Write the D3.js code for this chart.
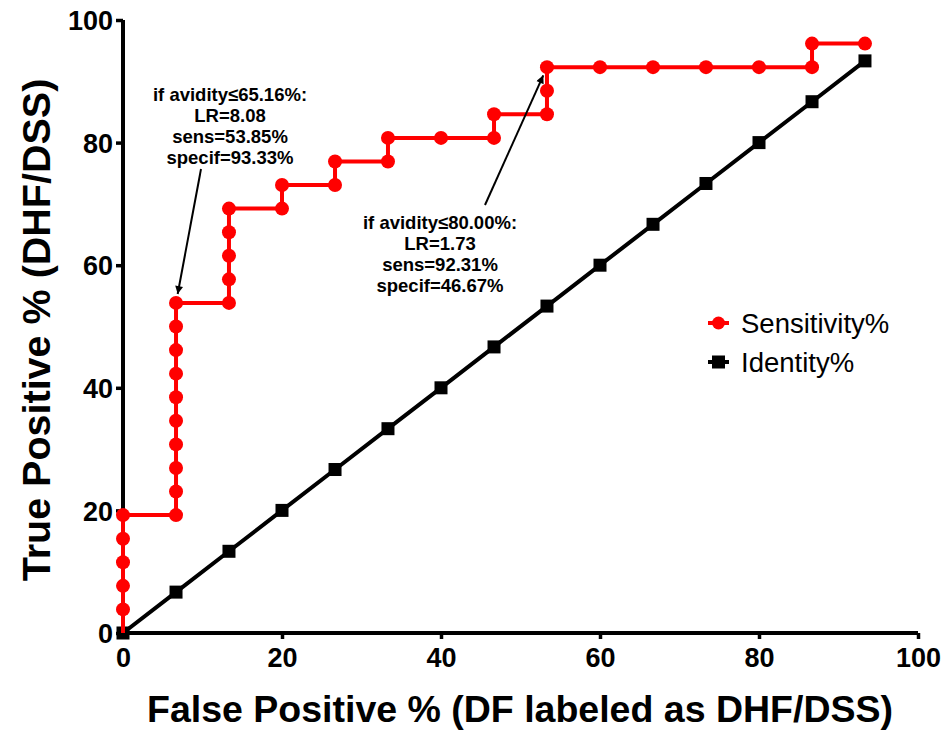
<!DOCTYPE html>
<html lang="en">
<head>
    <meta charset="UTF-8">
    <title>ROC curve - avidity</title>
    <style>
        html, body {
            margin: 0;
            padding: 0;
            background: #fff;
        }
        svg {
            display: block;
            font-family: "Liberation Sans", Arial, sans-serif;
        }
        .tick-label {
            font-size: 27px;
            font-weight: bold;
        }
        .axis-title {
            font-size: 37.5px;
            font-weight: bold;
        }
        .note {
            font-size: 18.5px;
            font-weight: bold;
            text-anchor: middle;
        }
        .legend-label {
            font-size: 27.5px;
        }
    </style>
    <script src="https://d3js.org/d3.v7.min.js"></script>
</head>
<body>
    <svg width="949" height="732"></svg>
    <script>
        // ROC points, in %
        var sensFpr = [0, 0, 0, 0, 0, 0,
            6.67, 6.67, 6.67, 6.67, 6.67, 6.67, 6.67, 6.67, 6.67, 6.67,
            13.33, 13.33, 13.33, 13.33, 13.33,
            20, 20, 26.67, 26.67, 33.33, 33.33, 40, 46.67, 46.67,
            53.33, 53.33, 53.33, 60, 66.67, 73.33, 80, 86.67, 86.67, 93.33];
        var sensTpr = [0, 3.85, 7.69, 11.54, 15.38, 19.23,
            19.23, 23.08, 26.92, 30.77, 34.62, 38.46, 42.31, 46.15, 50.00, 53.85,
            53.85, 57.69, 61.54, 65.38, 69.23,
            69.23, 73.08, 73.08, 76.92, 76.92, 80.77, 80.77, 80.77, 84.62,
            84.62, 88.46, 92.31, 92.31, 92.31, 92.31, 92.31, 92.31, 96.15, 96.15];
        var identX = [0, 6.67, 13.33, 20, 26.67, 33.33, 40, 46.67, 53.33, 60, 66.67, 73.33, 80, 86.67, 93.33];
        var identY = [0, 6.67, 13.33, 20, 26.67, 33.33, 40, 46.67, 53.33, 60, 66.67, 73.33, 80, 86.67, 93.33];
        var ticks = [0, 20, 40, 60, 80, 100];
        var seriesNames = ["Sensitivity%", "Identity%"];
        var notes = [
            ["if avidity\u226465.16%:", "LR=8.08", "sens=53.85%", "specif=93.33%"],
            ["if avidity\u226480.00%:", "LR=1.73", "sens=92.31%", "specif=46.67%"]
        ];
        var noteTargets = [[6.67, 53.85], [53.33, 92.31]];

        var svg = d3.select("svg");
        var x = d3.scaleLinear().domain([0, 100]).range([123, 918]);
        var y = d3.scaleLinear().domain([0, 100]).range([633, 20]);

        var sens = sensFpr.map((d, i) => [d, sensTpr[i]]);
        var ident = identX.map((d, i) => [d, identY[i]]);

        var line = d3.line().x(d => x(d[0])).y(d => y(d[1]));

        // axes
        var xAxis = svg.append("g")
            .attr("transform", "translate(0,633)")
            .call(d3.axisBottom(x).tickValues(ticks).tickSize(6).tickPadding(6));
        var yAxis = svg.append("g")
            .attr("transform", "translate(123,0)")
            .call(d3.axisLeft(y).tickValues(ticks).tickSize(7).tickPadding(3));

        [xAxis, yAxis].forEach(function(g) {
            g.select(".domain").attr("stroke", "#000").attr("stroke-width", 4)
                .attr("d", g === xAxis ? "M123,0H918" : "M0,633V20");
            g.selectAll(".tick line").attr("stroke", "#000").attr("stroke-width", 3.5);
            g.selectAll(".tick text").attr("class", "tick-label").attr("fill", "#000");
        });
        xAxis.selectAll(".tick text").attr("dy", "0.82em");
        yAxis.selectAll(".tick text").attr("dy", "0.36em");

        // identity line
        svg.append("path")
            .datum(ident)
            .attr("fill", "none")
            .attr("stroke", "#000")
            .attr("stroke-width", 4)
            .attr("d", line);

        svg.append("g").selectAll("rect")
            .data(ident)
            .enter().append("rect")
            .attr("x", d => x(d[0]) - 6.5)
            .attr("y", d => y(d[1]) - 6.5)
            .attr("width", 13)
            .attr("height", 13)
            .attr("fill", "#000");

        // sensitivity line
        svg.append("path")
            .datum(sens)
            .attr("fill", "none")
            .attr("stroke", "#ff0000")
            .attr("stroke-width", 4)
            .attr("d", line);

        svg.append("g").selectAll("circle")
            .data(sens.slice(1))
            .enter().append("circle")
            .attr("cx", d => x(d[0]))
            .attr("cy", d => y(d[1]))
            .attr("r", 7)
            .attr("fill", "#ff0000");

        // annotations
        svg.append("defs").append("marker")
            .attr("id", "arrow")
            .attr("viewBox", "0 0 10 10")
            .attr("refX", 10)
            .attr("refY", 5)
            .attr("markerWidth", 11)
            .attr("markerHeight", 8)
            .attr("markerUnits", "userSpaceOnUse")
            .attr("orient", "auto")
            .append("path")
            .attr("d", "M0,0L10,5L0,10z")
            .attr("fill", "#000");

        var notePos = [{cx: 230, y0: 101, from: [201, 169]}, {cx: 440, y0: 229, from: [485, 205]}];
        notes.forEach(function(lines, k) {
            var t = svg.append("text").attr("class", "note");
            lines.forEach(function(s, i) {
                t.append("tspan")
                    .attr("x", notePos[k].cx)
                    .attr("y", notePos[k].y0 + i * 21)
                    .text(s);
            });
            var tx = x(noteTargets[k][0]), ty = y(noteTargets[k][1]);
            var fx = notePos[k].from[0], fy = notePos[k].from[1];
            var dx = tx - fx, dy = ty - fy, len = Math.sqrt(dx * dx + dy * dy);
            svg.append("line")
                .attr("x1", fx).attr("y1", fy)
                .attr("x2", tx - dx / len * 9).attr("y2", ty - dy / len * 9)
                .attr("stroke", "#000")
                .attr("stroke-width", 2)
                .attr("marker-end", "url(#arrow)");
        });

        // legend
        var legend = svg.append("g").attr("transform", "translate(708,323)");
        seriesNames.forEach(function(name, i) {
            var row = legend.append("g").attr("transform", "translate(0," + i * 39 + ")");
            row.append("line")
                .attr("x1", 0).attr("x2", 21).attr("y1", 0).attr("y2", 0)
                .attr("stroke", i === 0 ? "#ff0000" : "#000")
                .attr("stroke-width", 4);
            if (i === 0) {
                row.append("circle").attr("cx", 10.5).attr("cy", 0).attr("r", 6.5).attr("fill", "#ff0000");
            } else {
                row.append("rect").attr("x", 4).attr("y", -6.5).attr("width", 13).attr("height", 13).attr("fill", "#000");
            }
            row.append("text")
                .attr("class", "legend-label")
                .attr("x", 33)
                .attr("y", 10)
                .text(name);
        });

        // axis titles
        svg.append("text")
            .attr("class", "axis-title")
            .attr("x", 520)
            .attr("y", 722)
            .attr("text-anchor", "middle")
            .text("False Positive % (DF labeled as DHF/DSS)");

        svg.append("text")
            .attr("class", "axis-title")
            .attr("transform", "translate(50,330) rotate(-90)")
            .attr("text-anchor", "middle")
            .style("font-size", "39.5px")
            .text("True Positive % (DHF/DSS)");
    </script>
</body>
</html>
